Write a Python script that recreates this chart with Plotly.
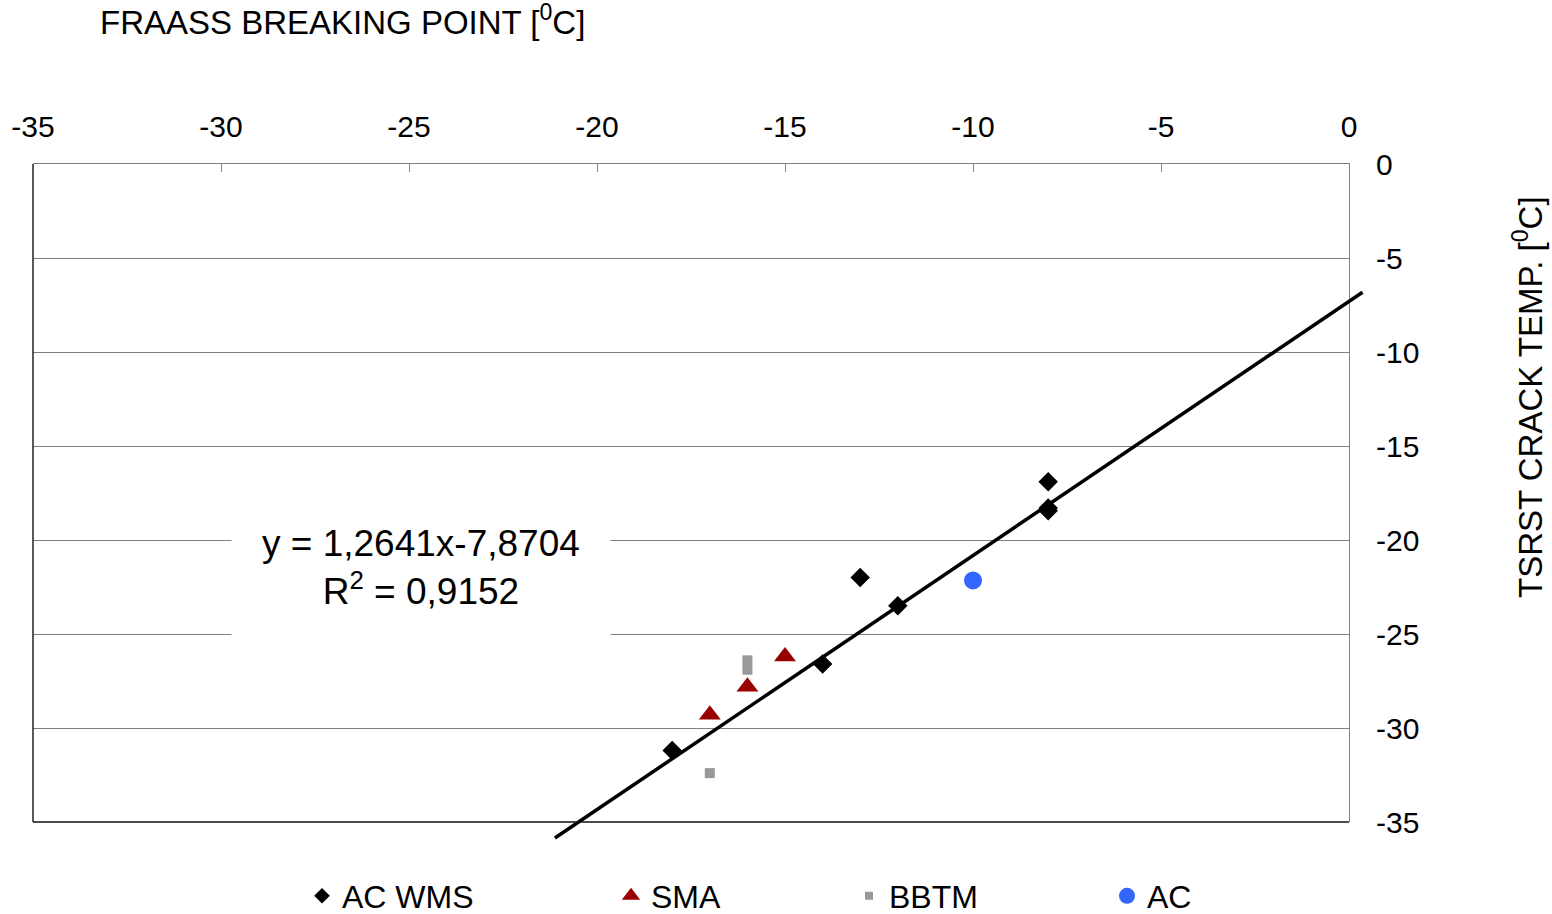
import numpy as np
import plotly.graph_objects as go

# ---------------- data ----------------
acwms_x = [-8, -8, -8, -13, -12, -14, -18]
acwms_y = [-16.9, -18.3, -18.45, -22.0, -23.5, -26.6, -31.2]

sma_x = [-15, -16, -17]
sma_y = [-26.2, -27.8, -29.3]

bbtm_x = [-16, -16, -17]
bbtm_y = [-26.4, -26.9, -32.4]

ac_x = [-10]
ac_y = [-22.15]

# trend line as drawn in the picture
trend_x = [-21.12, 0.36]
trend_slope = 1.3515
trend_intercept = -7.31
trend_label = "y = 1,2641x-7,8704<br>R<sup>2</sup> = 0,9152"

x_ticks = [-35, -30, -25, -20, -15, -10, -5, 0]
y_ticks = [0, -5, -10, -15, -20, -25, -30, -35]

legend_names = ["AC WMS", "SMA", "BBTM", "AC"]

# ---------------- layout geometry ----------------
W, H = 1552, 914
PL, PR, PT, PB = 33, 1349, 164, 822          # main plot area (px)
OL, OR, OT, OB = 33, 1380, 164, 850           # paper area (px), slightly larger
xr = [-35, 0]
yr = [-35, 0]
kx = (PR - PL) / (xr[1] - xr[0])              # px per unit
ky = (PB - PT) / (yr[1] - yr[0])

def px2x(p):
    return (p - OL) / (OR - OL)

def px2y(p):
    return (OB - p) / (OB - OT)

FONT = "Liberation Sans, Arial, sans-serif"

fig = go.Figure()

# trend line on a second (invisible) axis pair with the same scale but larger extent
tx = np.array(trend_x)
ty = trend_slope * tx + trend_intercept
fig.add_trace(go.Scatter(x=tx, y=ty, mode="lines", xaxis="x2", yaxis="y2",
                         line=dict(color="black", width=3.5), showlegend=False,
                         hoverinfo="skip"))

series = [
    (acwms_x, acwms_y, "diamond", 15, "#000000", 12),
    (sma_x, sma_y, "triangle-up", 19, "#990000", 17),
    (bbtm_x, bbtm_y, "square", 10, "#999999", 8),
    (ac_x, ac_y, "circle", 18, "#3366FF", 16),
]
legend_ids = ["legend", "legend2", "legend3", "legend4"]
for (xs, ys, sym, sz, col, lsz), name, lid in zip(series, legend_names, legend_ids):
    fig.add_trace(go.Scatter(x=xs, y=ys, mode="markers", name=name,
                             marker=dict(symbol=sym, size=sz, color=col,
                                         line=dict(width=0)),
                             showlegend=False))
    fig.add_trace(go.Scatter(x=[None], y=[None], mode="markers", name=name,
                             marker=dict(symbol=sym, size=lsz, color=col,
                                         line=dict(width=0)),
                             legend=lid, showlegend=True))

x_dom = [px2x(PL), px2x(PR)]
y_dom = [px2y(PB), px2y(PT)]

layout = dict(
    width=W, height=H,
    margin=dict(l=OL, r=W - OR, t=OT, b=H - OB, pad=0, autoexpand=False),
    paper_bgcolor="white", plot_bgcolor="rgba(0,0,0,0)",
    font=dict(family=FONT, color="black"),
    xaxis=dict(domain=x_dom, range=xr, side="top", tickvals=x_ticks,
               ticktext=[str(v) for v in x_ticks],
               showgrid=False, zeroline=False, showline=True,
               linecolor="#808080", linewidth=1, ticks="inside", ticklen=8,
               tickcolor="#808080", tickfont=dict(size=30, family=FONT),
               ticklabelstandoff=14, anchor="y"),
    yaxis=dict(domain=y_dom, range=yr, side="right", tickvals=y_ticks,
               ticktext=[str(v) for v in y_ticks],
               showgrid=True, gridcolor="#808080", gridwidth=1,
               zeroline=False, showline=True, linecolor="#808080",
               linewidth=1, ticks="", tickfont=dict(size=30, family=FONT),
               ticklabelstandoff=20, anchor="x"),
    xaxis2=dict(domain=[0, 1], range=[xr[0], xr[0] + (OR - OL) / kx],
                visible=False, showgrid=False, zeroline=False, anchor="y2"),
    yaxis2=dict(domain=[0, 1], range=[yr[1] - (OB - OT) / ky, yr[1]],
                visible=False, showgrid=False, zeroline=False, anchor="x2"),
)

# legends positioned individually (container coordinates, no margin push)
leg_px = [302, 611, 849, 1107]
for lid, p in zip(legend_ids, leg_px):
    layout[lid] = dict(x=p / W, y=1 - 896 / H, xref="container", yref="container",
                       xanchor="left", yanchor="middle",
                       orientation="h", bgcolor="rgba(0,0,0,0)",
                       font=dict(size=32, family=FONT, color="black"))

fig.update_layout(**layout)

# left and bottom border lines (dark)
fig.add_shape(type="line", xref="x domain", yref="y domain", x0=0, x1=0, y0=0, y1=1,
              line=dict(color="#222222", width=1.5))
fig.add_shape(type="line", xref="x domain", yref="y domain", x0=0, x1=1, y0=0, y1=0,
              line=dict(color="#111111", width=1.5))

# axis titles
fig.add_annotation(text="FRAASS BREAKING POINT [<sup>0</sup>C]", xref="paper", yref="paper",
                   x=px2x(98), y=px2y(20), xanchor="left", yanchor="middle",
                   showarrow=False, font=dict(size=33, family=FONT, color="black"))
fig.add_annotation(text="TSRST CRACK TEMP. [<sup>0</sup>C]", xref="paper", yref="paper",
                   x=px2x(1528), y=px2y(397), xanchor="center", yanchor="middle",
                   textangle=-90, showarrow=False,
                   font=dict(size=33, family=FONT, color="black"))

# trendline equation: white box and text
fig.add_annotation(text=" ", xref="paper", yref="paper",
                   x=px2x(421), y=px2y(580), xanchor="center", yanchor="middle",
                   width=378, height=110, bgcolor="white", borderpad=0,
                   showarrow=False)
fig.add_annotation(text=trend_label, xref="paper", yref="paper",
                   x=px2x(421), y=px2y(567), xanchor="center", yanchor="middle",
                   showarrow=False, align="center",
                   font=dict(size=37, family=FONT, color="black"))

fig.write_html("out.html")
